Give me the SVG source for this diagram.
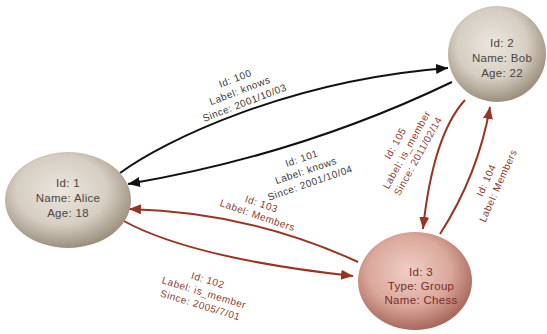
<svg xmlns="http://www.w3.org/2000/svg" width="547" height="334" viewBox="0 0 547 334">
<style>
.nt{font-family:"Liberation Sans",Arial,sans-serif;font-size:11.5px;letter-spacing:0.3px;text-anchor:middle;fill:#4a4540}
.ct{font-family:"Liberation Sans",Arial,sans-serif;font-size:11.5px;letter-spacing:0.3px;text-anchor:middle;fill:#7a2a2a}
.lb{font-family:"Liberation Sans",Arial,sans-serif;font-size:10px;letter-spacing:0.5px;text-anchor:middle;fill:#3a3a3a}
.lr{font-family:"Liberation Sans",Arial,sans-serif;font-size:10px;letter-spacing:0.5px;text-anchor:middle;fill:#8a3a2c}
.eb{fill:none;stroke:#111;stroke-width:2}
.er{fill:none;stroke:#9a3422;stroke-width:2}
</style>
<defs>
<radialGradient id="gb" cx="0.45" cy="0.4" r="0.6">
<stop offset="0" stop-color="#ebe6de"/>
<stop offset="0.6" stop-color="#d6cec2"/>
<stop offset="1" stop-color="#9c8f7e"/>
</radialGradient>
<radialGradient id="gr" cx="0.45" cy="0.4" r="0.6">
<stop offset="0" stop-color="#f0cfc6"/>
<stop offset="0.6" stop-color="#dba89c"/>
<stop offset="1" stop-color="#a8685a"/>
</radialGradient>
<marker id="ab" markerUnits="userSpaceOnUse" markerWidth="14" markerHeight="12" refX="12" refY="5" orient="auto">
<path d="M0,0 L12,5 L0,10 z" fill="#111"/>
</marker>
<marker id="ar" markerUnits="userSpaceOnUse" markerWidth="14" markerHeight="12" refX="12" refY="5" orient="auto">
<path d="M0,0 L12,5 L0,10 z" fill="#9a3422"/>
</marker>
</defs>
<rect width="547" height="334" fill="#fff"/>
<g id="connectors">
<path class="eb" d="M120,173 C165,140 290,80 448,68" marker-end="url(#ab)"/>
<path class="eb" d="M452,82 Q300,155 128,184" marker-end="url(#ab)"/>
<path class="er" d="M358,262 Q250,212 129,209" marker-end="url(#ar)"/>
<path class="er" d="M122,220 Q190,258 353,276" marker-end="url(#ar)"/>
<path class="er" d="M465,100 Q433,135 423,229" marker-end="url(#ar)"/>
<path class="er" d="M440,234 Q478,175 490,107" marker-end="url(#ar)"/>
<g transform="translate(240,91) rotate(-21)">
<text class="lb" y="-10">Id: 100</text>
<text class="lb" y="3">Label: knows</text>
<text class="lb" y="16">Since: 2001/10/03</text>
</g>
<g transform="translate(306,171) rotate(-19)">
<text class="lb" y="-10">Id: 101</text>
<text class="lb" y="3">Label: knows</text>
<text class="lb" y="16">Since: 2001/10/04</text>
</g>
<g transform="translate(259,211) rotate(19)">
<text class="lr" y="-4">Id: 103</text>
<text class="lr" y="8">Label: Members</text>
</g>
<g transform="translate(204,293) rotate(17)">
<text class="lr" y="-10">Id: 102</text>
<text class="lr" y="3">Label: is_member</text>
<text class="lr" y="16">Since: 2005/7/01</text>
</g>
<g transform="translate(407,150) rotate(-61)">
<text class="lr" y="-10">Id: 105</text>
<text class="lr" y="3">Label: is_member</text>
<text class="lr" y="16">Since: 2011/02/14</text>
</g>
<g transform="translate(492,183) rotate(-66)">
<text class="lr" y="-3">Id: 104</text>
<text class="lr" y="10">Label: Members</text>
</g>
</g>
<g id="node1">
<ellipse cx="68" cy="200" rx="63" ry="48" fill="url(#gb)"/>
<text class="nt" x="68" y="187">Id: 1</text>
<text class="nt" x="68" y="202">Name: Alice</text>
<text class="nt" x="68" y="217">Age: 18</text>
</g>
<g id="node2">
<ellipse cx="497" cy="54" rx="49" ry="48" fill="url(#gb)"/>
<text class="nt" x="502" y="47">Id: 2</text>
<text class="nt" x="502" y="62">Name: Bob</text>
<text class="nt" x="502" y="77">Age: 22</text>
</g>
<g id="node3">
<ellipse cx="415" cy="281" rx="57" ry="49" fill="url(#gr)"/>
<text class="ct" x="421" y="276">Id: 3</text>
<text class="ct" x="421" y="290">Type: Group</text>
<text class="ct" x="421" y="304">Name: Chess</text>
</g>
</svg>
